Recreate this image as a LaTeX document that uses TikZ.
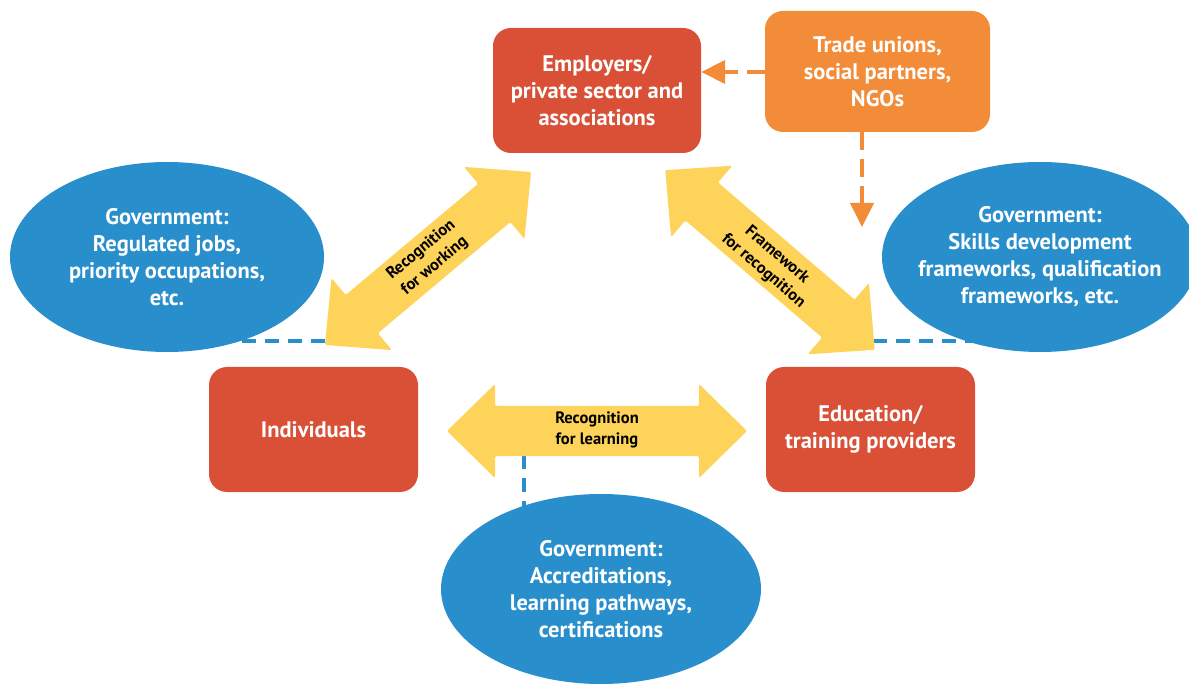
\documentclass[tikz,border=0pt]{standalone}
\usepackage{fontspec}
\setmainfont{PT Sans}
\usetikzlibrary{arrows.meta,shapes.geometric}
\definecolor{boxred}{HTML}{D95037}
\definecolor{boxorange}{HTML}{F28C38}
\definecolor{govblue}{HTML}{298FCC}
\definecolor{arrowyellow}{HTML}{FED35A}
\newcommand{\blockarrow}[3]{%
  \begin{scope}[shift={#1}, rotate=#2]
    \fill[arrowyellow, rounded corners=1.5pt] (-#3,0) -- (-#3+48,47) -- (-#3+48,25) -- (#3-48,25) -- (#3-48,47) -- (#3,0)
      -- (#3-48,-47) -- (#3-48,-25) -- (-#3+48,-25) -- (-#3+48,-47) -- cycle;
  \end{scope}}
\begin{document}
\begin{tikzpicture}[x=1pt,y=-1pt,
  mainfont/.style={font=\bfseries\fontsize{22.5}{27}\selectfont},
  redbox/.style={rectangle, rounded corners=18pt, fill=boxred, text=white, minimum width=209pt, minimum height=125pt, align=center, mainfont},
  orangebox/.style={rectangle, rounded corners=18pt, fill=boxorange, text=white, minimum width=225pt, minimum height=121pt, align=center, mainfont},
  govellipse/.style={ellipse, fill=govblue, text=white, inner sep=-40pt, minimum width=316pt, minimum height=190pt, align=center, mainfont},
  arrowlabel/.style={text=black, align=center, inner sep=0pt, font=\bfseries\fontsize{16.5}{21}\selectfont},
  bluedash/.style={draw=govblue, line width=4pt, dash pattern=on 14pt off 9pt},
  orangedash/.style={draw=boxorange, line width=4pt, dash pattern=on 18pt off 9pt, -{Triangle[length=24pt,width=23pt]}}
]
\useasboundingbox (0,0) rectangle (1189,684);

% dashed government links (behind)
\coordinate (lwork) at (325,341);
\coordinate (lgov) at (200,341);
\coordinate (rframe) at (873,341);
\coordinate (rgov) at (1000,341);
\coordinate (lshaft) at (524,455);
\coordinate (bgov) at (524,540);
\draw[bluedash] (lwork) -- (lgov);
\draw[bluedash] (rframe) -- (rgov);
\draw[bluedash] (lshaft) -- (bgov);

% government ellipses
\node[govellipse, minimum width=314pt] (govl) at (167,257) {Government:\\Regulated jobs,\\priority occupations,\\etc.};
\node[govellipse] (govr) at (1040,257) {Government:\\Skills development\\frameworks, qualification\\frameworks, etc.};
\node[govellipse, minimum width=320pt] (govb) at (601,589) {Government:\\Accreditations,\\learning pathways,\\certifications};

% boxes
\node[redbox, minimum width=208pt] (emp) at (597,90.5) {Employers/\\private sector and\\associations};
\node[orangebox] (tu) at (877.5,71.5) {Trade unions,\\social partners,\\NGOs};
\node[redbox] (ind) at (313.5,429.5) {Individuals};
\node[redbox] (edu) at (870.5,429.5) {Education/\\training providers};

% yellow block arrows
\blockarrow{(428,258.5)}{40}{134.5}
\blockarrow{(770,260)}{-40.6}{138}
\blockarrow{(597,431)}{0}{150}
\node[arrowlabel, rotate=40] (lw) at (428,258) {Recognition\\for working};
\node[arrowlabel, rotate=-40.6] (fr) at (770,263) {Framework\\for recognition};
\node[arrowlabel] (rl) at (597,430) {Recognition\\for learning};

% orange dashed arrows
\coordinate (tuv) at (862,132);
\coordinate (tuend) at (862,227);
\draw[orangedash] (tu.west |- 0,72) -- (emp.east |- 0,72);
\draw[orangedash] (tuv) -- (tuend);
\end{tikzpicture}
\end{document}
